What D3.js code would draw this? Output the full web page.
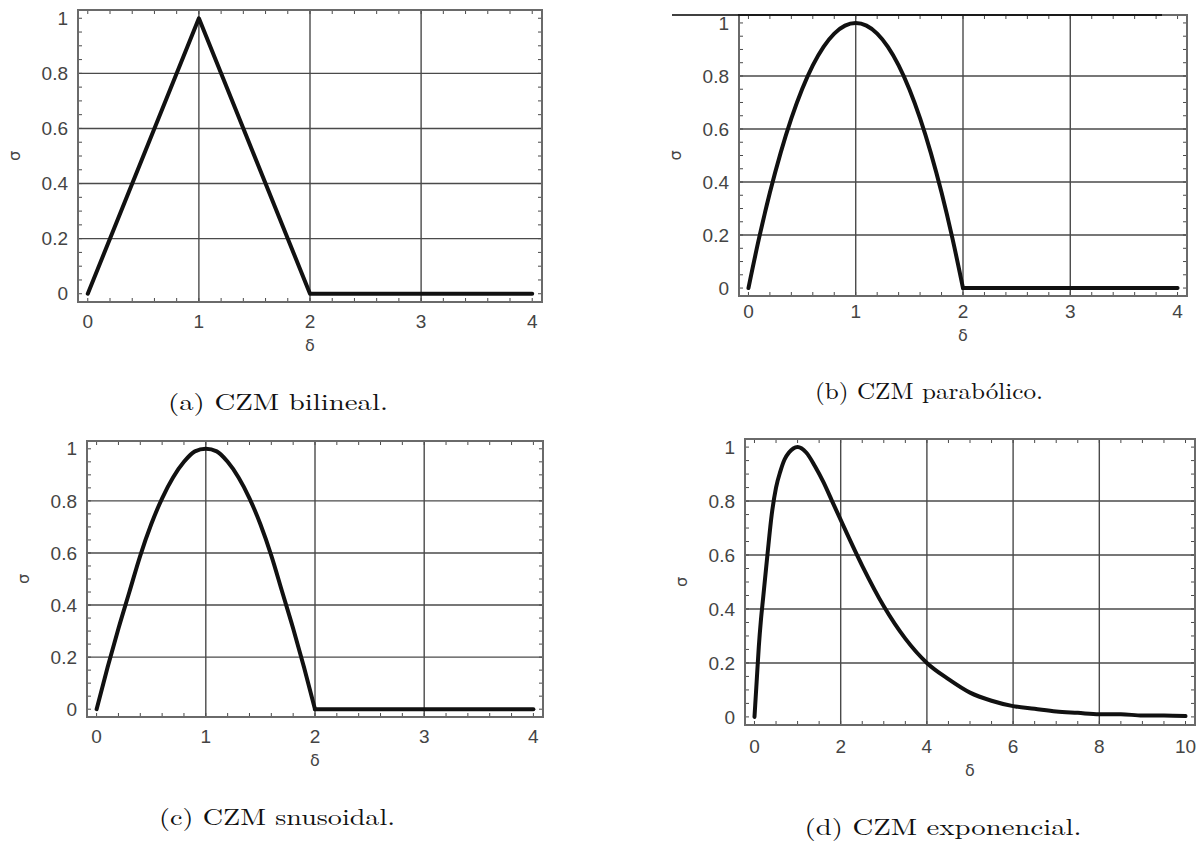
<!DOCTYPE html>
<html>
<head>
<meta charset="utf-8">
<script src="https://cdn.jsdelivr.net/npm/d3@7"></script>
<style>
    body { margin: 0; background: #fff; }
    svg { display: block; }
</style>
</head>
<body>
<svg id="graph" width="1202" height="845"></svg>
<script>
// data
const bilinealX = [0, 1, 2, 4];
const bilinealY = [0, 1, 0, 0];

const paraboX = [0, 0.1, 0.2, 0.3, 0.4, 0.5, 0.6, 0.7, 0.8, 0.9, 1, 1.1, 1.2, 1.3, 1.4, 1.5, 1.6, 1.7, 1.8, 1.9, 2, 4];
const paraboY = [0, 0.19, 0.36, 0.51, 0.64, 0.75, 0.84, 0.91, 0.96, 0.99, 1, 0.99, 0.96, 0.91, 0.84, 0.75, 0.64, 0.51, 0.36, 0.19, 0, 0];

const sinX = [0, 0.1, 0.2, 0.3, 0.4, 0.5, 0.6, 0.7, 0.8, 0.9, 1, 1.1, 1.2, 1.3, 1.4, 1.5, 1.6, 1.7, 1.8, 1.9, 2, 4];
const sinY = [0, 0.16, 0.31, 0.45, 0.59, 0.71, 0.81, 0.89, 0.95, 0.99, 1, 0.99, 0.95, 0.89, 0.81, 0.71, 0.59, 0.45, 0.31, 0.16, 0, 0];

const expX = [0, 0.05, 0.1, 0.15, 0.2, 0.3, 0.4, 0.5, 0.6, 0.7, 0.8, 0.9, 1, 1.2, 1.4, 1.6, 1.8, 2, 2.5, 3, 3.5, 4, 4.5, 5, 5.5, 6, 6.5, 7, 7.5, 8, 8.5, 9, 9.5, 10];
const expY = [0, 0.13, 0.26, 0.36, 0.44, 0.6, 0.75, 0.85, 0.91, 0.955, 0.98, 0.995, 1, 0.98, 0.93, 0.87, 0.8, 0.73, 0.56, 0.41, 0.29, 0.2, 0.14, 0.09, 0.06, 0.04, 0.03, 0.02, 0.015, 0.01, 0.01, 0.005, 0.005, 0.003];

const xTicksShort = [0, 1, 2, 3, 4];
const xTicksLong = [0, 2, 4, 6, 8, 10];
const yTicks = [0, 0.2, 0.4, 0.6, 0.8, 1];

const captions = ["(a) CZM bilineal.", "(b) CZM parabólico.", "(c) CZM snusoidal.", "(d) CZM exponencial."];

const svg = d3.select("#graph");

// layout of the four panels (frame in px); bend = where the curve meets the flat tail
const panels = [
    { xs: bilinealX, ys: bilinealY, ticks: xTicksShort, xmax: 4, xminor: 0.2, curve: d3.curveLinear, bend: 4,
      l: 78, t: 10, r: 542, b: 302, lab: 26, cap: captions[0], capX: 278, capY: 410, capW: 220 },
    { xs: paraboX, ys: paraboY, ticks: xTicksShort, xmax: 4, xminor: 0.2, curve: d3.curveMonotoneX, bend: 2,
      l: 739, t: 15, r: 1187, b: 296, lab: 22, cap: captions[1], capX: 929, capY: 399, capW: 228 },
    { xs: sinX, ys: sinY, ticks: xTicksShort, xmax: 4, xminor: 0.2, curve: d3.curveMonotoneX, bend: 2,
      l: 87, t: 441, r: 543, b: 717, lab: 26, cap: captions[2], capX: 277, capY: 825, capW: 236 },
    { xs: expX, ys: expY, ticks: xTicksLong, xmax: 10, xminor: 0.5, curve: d3.curveMonotoneX, bend: 10,
      l: 745, t: 439, r: 1195, b: 725, lab: 28, cap: captions[3], capX: 943, capY: 835, capW: 277 },
];

const gridColor = "#4a4a4a";
const textColor = "#444";

panels.forEach((p) => {
    const pad = p.xmax * 0.022;
    const x = d3.scaleLinear().domain([-pad, p.xmax + pad]).range([p.l, p.r]);
    const y = d3.scaleLinear().domain([-0.03, 1.03]).range([p.b, p.t]);
    const g = svg.append("g");

    // grid (interior majors only)
    p.ticks.filter((v) => v > 0 && v < p.xmax).forEach((v) => {
        g.append("line")
            .attr("x1", x(v)).attr("x2", x(v))
            .attr("y1", p.t).attr("y2", p.b)
            .attr("stroke", gridColor)
            .attr("stroke-width", 1.4);
    });
    yTicks.filter((v) => v > 0 && v < 1).forEach((v) => {
        g.append("line")
            .attr("x1", p.l).attr("x2", p.r)
            .attr("y1", y(v)).attr("y2", y(v))
            .attr("stroke", gridColor)
            .attr("stroke-width", 1.4);
    });

    // minor ticks on all four sides
    d3.range(0, p.xmax + 1e-9, p.xminor).forEach((v) => {
        g.append("line").attr("x1", x(v)).attr("x2", x(v))
            .attr("y1", p.b).attr("y2", p.b - 4)
            .attr("stroke", gridColor).attr("stroke-width", 1);
        g.append("line").attr("x1", x(v)).attr("x2", x(v))
            .attr("y1", p.t).attr("y2", p.t + 4)
            .attr("stroke", gridColor).attr("stroke-width", 1);
    });
    d3.range(0, 1 + 1e-9, 0.05).forEach((v) => {
        g.append("line").attr("x1", p.l).attr("x2", p.l + 4)
            .attr("y1", y(v)).attr("y2", y(v))
            .attr("stroke", gridColor).attr("stroke-width", 1);
        g.append("line").attr("x1", p.r).attr("x2", p.r - 4)
            .attr("y1", y(v)).attr("y2", y(v))
            .attr("stroke", gridColor).attr("stroke-width", 1);
    });

    // frame
    g.append("rect")
        .attr("x", p.l).attr("y", p.t)
        .attr("width", p.r - p.l).attr("height", p.b - p.t)
        .attr("fill", "none")
        .attr("stroke", "#6a6a6a")
        .attr("stroke-width", 2);

    // curve: smooth part up to the bend, straight tail after it
    const pts = p.xs.map((v, i) => [x(v), y(p.ys[i])]);
    const head = pts.filter((d, i) => p.xs[i] <= p.bend);
    const tail = pts.filter((d, i) => p.xs[i] >= p.bend);
    [[head, p.curve], [tail, d3.curveLinear]].forEach(([seg, c]) => {
        if (seg.length < 2) return;
        g.append("path")
            .attr("d", d3.line().curve(c)(seg))
            .attr("fill", "none")
            .attr("stroke", "#111")
            .attr("stroke-width", 4)
            .attr("stroke-linejoin", "round")
            .attr("stroke-linecap", "round");
    });

    // tick labels
    p.ticks.forEach((v) => {
        g.append("text")
            .attr("x", x(v))
            .attr("y", p.b + p.lab)
            .attr("text-anchor", "middle")
            .attr("font-family", "Liberation Sans, Arial, sans-serif")
            .attr("font-size", 19)
            .attr("fill", textColor)
            .text(v);
    });
    yTicks.forEach((v) => {
        g.append("text")
            .attr("x", p.l - 10)
            .attr("y", y(v))
            .attr("dy", "0.35em")
            .attr("text-anchor", "end")
            .attr("font-family", "Liberation Sans, Arial, sans-serif")
            .attr("font-size", 19)
            .attr("fill", textColor)
            .text(v);
    });

    // axis labels
    g.append("text")
        .attr("x", (p.l + p.r) / 2)
        .attr("y", p.b + p.lab + 23)
        .attr("text-anchor", "middle")
        .attr("font-family", "DejaVu Sans, sans-serif")
        .attr("font-size", 16)
        .attr("fill", textColor)
        .text("δ");
    g.append("text")
        .attr("transform", `translate(${p.l - 58},${(p.t + p.b) / 2}) rotate(-90)`)
        .attr("text-anchor", "middle")
        .attr("font-family", "DejaVu Sans, sans-serif")
        .attr("font-size", 16)
        .attr("fill", textColor)
        .text("σ");

    // caption
    svg.append("text")
        .attr("x", p.capX)
        .attr("y", p.capY)
        .attr("text-anchor", "middle")
        .attr("font-family", "Latin Modern Roman, CMU Serif, Liberation Serif, serif")
        .attr("font-size", 23)
        .attr("fill", "#111")
        .attr("textLength", p.capW)
        .attr("lengthAdjust", "spacingAndGlyphs")
        .text(p.cap);
});

// stray black rule along the top of panel (b)
svg.append("line")
    .attr("x1", 672).attr("x2", 1162)
    .attr("y1", 15).attr("y2", 15)
    .attr("stroke", "#000")
    .attr("stroke-width", 1.6);
</script>
</body>
</html>
